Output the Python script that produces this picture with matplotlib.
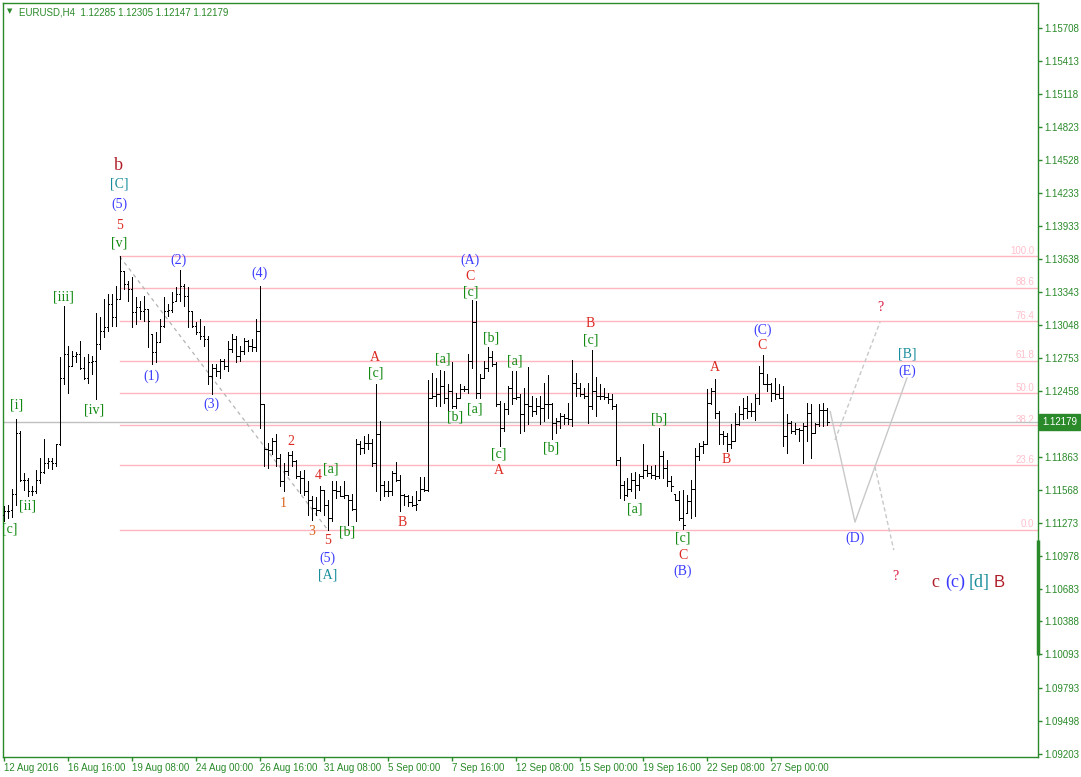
import matplotlib
matplotlib.use("Agg")
import matplotlib.pyplot as plt
import matplotlib.transforms as mtransforms
from matplotlib.collections import LineCollection

# EURUSD H4 bars (open / high / low / close)
opens = [
    1.11345, 1.11381, 1.11390, 1.11531, 1.12080, 1.11660, 1.11660, 1.11555, 1.11561, 1.11660,
    1.11729, 1.11810, 1.11825, 1.11810, 1.11981, 1.12575, 1.12785, 1.12680, 1.12770, 1.12785,
    1.12665, 1.12575, 1.12710, 1.12725, 1.12875, 1.12995, 1.13025, 1.13235, 1.13115, 1.13280,
    1.13535, 1.13415, 1.13370, 1.13160, 1.13205, 1.13175, 1.13190, 1.12965, 1.12800, 1.12890,
    1.13040, 1.13175, 1.13181, 1.13265, 1.13325, 1.13400, 1.13310, 1.13175, 1.13040, 1.12980,
    1.12950, 1.12920, 1.12590, 1.12665, 1.12635, 1.12725, 1.12680, 1.12830, 1.12920, 1.12770,
    1.12815, 1.12905, 1.12860, 1.12845, 1.12995, 1.12335, 1.11930, 1.11921, 1.12005, 1.11855,
    1.11645, 1.11735, 1.11879, 1.11825, 1.11690, 1.11675, 1.11561, 1.11480, 1.11405, 1.11390,
    1.11570, 1.11435, 1.11315, 1.11570, 1.11561, 1.11510, 1.11519, 1.11480, 1.11399, 1.11975,
    1.11945, 1.11990, 1.11990, 1.11810, 1.12071, 1.11615, 1.11555, 1.11561, 1.11720, 1.11660,
    1.11519, 1.11510, 1.11459, 1.11430, 1.11480, 1.11579, 1.11570, 1.12395, 1.12410, 1.12425,
    1.12500, 1.12395, 1.12455, 1.12320, 1.12395, 1.12470, 1.12470, 1.12725, 1.13070, 1.12440,
    1.12575, 1.12665, 1.12755, 1.12695, 1.12335, 1.12125, 1.12290, 1.12485, 1.12395, 1.12401,
    1.12245, 1.12335, 1.12320, 1.12275, 1.12320, 1.12305, 1.12335, 1.12335, 1.12170, 1.12185,
    1.12230, 1.12215, 1.12200, 1.12530, 1.12485, 1.12425, 1.12410, 1.12320, 1.12455, 1.12410,
    1.12410, 1.12401, 1.12380, 1.12320, 1.11840, 1.11615, 1.11525, 1.11579, 1.11660, 1.11615,
    1.11690, 1.11750, 1.11720, 1.11705, 1.11690, 1.11870, 1.11765, 1.11645, 1.11531, 1.11480,
    1.11315, 1.11360, 1.11471, 1.11579, 1.11870, 1.11960, 1.11981, 1.12350, 1.12455, 1.12260,
    1.12065, 1.12050, 1.11975, 1.12005, 1.12155, 1.12245, 1.12305, 1.12275, 1.12275, 1.12395,
    1.12620, 1.12515, 1.12515, 1.12440, 1.12425, 1.12395, 1.12050, 1.12170, 1.12095, 1.12110,
    1.12101, 1.12140, 1.12260, 1.12080, 1.12155, 1.12281, 1.12285,
]
highs = [
    1.11420, 1.11429, 1.11579, 1.12200, 1.12095, 1.11720, 1.11675, 1.11600, 1.11750, 1.11855,
    1.12020, 1.11855, 1.11855, 1.11981, 1.12761, 1.13220, 1.12860, 1.12815, 1.12800, 1.12905,
    1.12761, 1.12785, 1.12770, 1.13151, 1.13115, 1.13280, 1.13325, 1.13325, 1.13400, 1.13661,
    1.13535, 1.13445, 1.13475, 1.13295, 1.13265, 1.13310, 1.13190, 1.12965, 1.12980, 1.13100,
    1.13295, 1.13235, 1.13340, 1.13385, 1.13541, 1.13415, 1.13385, 1.13175, 1.13070, 1.13100,
    1.13040, 1.12950, 1.12695, 1.12695, 1.12740, 1.12740, 1.12905, 1.12965, 1.12950, 1.12860,
    1.12929, 1.12911, 1.12920, 1.13100, 1.13400, 1.12335, 1.11990, 1.12035, 1.12065, 1.11885,
    1.11810, 1.11909, 1.11915, 1.11840, 1.11735, 1.11750, 1.11645, 1.11510, 1.11501, 1.11600,
    1.11570, 1.11480, 1.11645, 1.11645, 1.11600, 1.11645, 1.11525, 1.11531, 1.12020, 1.12005,
    1.12050, 1.12065, 1.12020, 1.12515, 1.12185, 1.11645, 1.11645, 1.11735, 1.11816, 1.11705,
    1.11531, 1.11525, 1.11510, 1.11555, 1.11681, 1.11681, 1.12551, 1.12620, 1.12575, 1.12641,
    1.12635, 1.12515, 1.12710, 1.12440, 1.12515, 1.12500, 1.12785, 1.13271, 1.13259, 1.12605,
    1.12725, 1.12845, 1.12815, 1.12710, 1.12365, 1.12350, 1.12500, 1.12635, 1.12635, 1.12425,
    1.12485, 1.12671, 1.12410, 1.12395, 1.12410, 1.12530, 1.12599, 1.12350, 1.12215, 1.12260,
    1.12245, 1.12350, 1.12734, 1.12620, 1.12530, 1.12485, 1.12530, 1.12821, 1.12581, 1.12515,
    1.12485, 1.12440, 1.12425, 1.12335, 1.11861, 1.11645, 1.11675, 1.11720, 1.11729, 1.11711,
    1.11975, 1.11795, 1.11780, 1.11795, 1.12125, 1.11915, 1.11840, 1.11690, 1.11531, 1.11555,
    1.11570, 1.11525, 1.11660, 1.11945, 1.11990, 1.12005, 1.12470, 1.12485, 1.12560, 1.12275,
    1.12095, 1.12080, 1.12155, 1.12260, 1.12320, 1.12395, 1.12410, 1.12350, 1.12425, 1.12680,
    1.12776, 1.12605, 1.12530, 1.12575, 1.12515, 1.12500, 1.12245, 1.12185, 1.12170, 1.12125,
    1.12170, 1.12350, 1.12335, 1.12170, 1.12335, 1.12350, 1.12305,
]
lows = [
    1.11291, 1.11315, 1.11321, 1.11435, 1.11645, 1.11570, 1.11510, 1.11525, 1.11540, 1.11630,
    1.11720, 1.11765, 1.11759, 1.11780, 1.11969, 1.12515, 1.12440, 1.12680, 1.12710, 1.12650,
    1.12560, 1.12530, 1.12605, 1.12386, 1.12830, 1.12935, 1.12995, 1.13040, 1.13040, 1.13280,
    1.13370, 1.13265, 1.13025, 1.13055, 1.13100, 1.13085, 1.12845, 1.12695, 1.12710, 1.12890,
    1.13025, 1.13130, 1.13160, 1.13265, 1.13265, 1.13220, 1.13025, 1.13025, 1.12965, 1.12920,
    1.12860, 1.12515, 1.12431, 1.12590, 1.12575, 1.12650, 1.12635, 1.12800, 1.12710, 1.12725,
    1.12785, 1.12815, 1.12815, 1.12815, 1.12125, 1.11780, 1.11765, 1.11885, 1.11780, 1.11600,
    1.11561, 1.11705, 1.11780, 1.11675, 1.11540, 1.11525, 1.11345, 1.11300, 1.11345, 1.11375,
    1.11345, 1.11210, 1.11285, 1.11495, 1.11510, 1.11495, 1.11255, 1.11390, 1.11285, 1.11885,
    1.11900, 1.11930, 1.11780, 1.11555, 1.11480, 1.11510, 1.11510, 1.11525, 1.11645, 1.11375,
    1.11435, 1.11420, 1.11420, 1.11390, 1.11480, 1.11555, 1.11555, 1.12395, 1.12320, 1.12320,
    1.12350, 1.12275, 1.12305, 1.12305, 1.12395, 1.12455, 1.12440, 1.12665, 1.12395, 1.12395,
    1.12575, 1.12635, 1.12680, 1.12320, 1.11960, 1.12095, 1.12245, 1.12335, 1.12380, 1.12080,
    1.12095, 1.12155, 1.12230, 1.12245, 1.12155, 1.12185, 1.12215, 1.12020, 1.12080, 1.12125,
    1.12155, 1.12155, 1.12140, 1.12410, 1.12410, 1.12395, 1.12170, 1.12290, 1.12230, 1.12380,
    1.12380, 1.12350, 1.12290, 1.11795, 1.11495, 1.11480, 1.11510, 1.11555, 1.11495, 1.11570,
    1.11675, 1.11690, 1.11675, 1.11669, 1.11675, 1.11675, 1.11600, 1.11555, 1.11480, 1.11300,
    1.11219, 1.11360, 1.11315, 1.11330, 1.11840, 1.11900, 1.11975, 1.12335, 1.12215, 1.11975,
    1.11975, 1.11915, 1.11945, 1.12005, 1.12150, 1.12200, 1.12215, 1.12230, 1.12191, 1.12335,
    1.12515, 1.12455, 1.12365, 1.12380, 1.12395, 1.11960, 1.11900, 1.12080, 1.12065, 1.12005,
    1.11810, 1.12005, 1.11855, 1.12080, 1.12140, 1.12140, 1.12147,
]
closes = [
    1.11381, 1.11381, 1.11531, 1.12080, 1.11660, 1.11660, 1.11555, 1.11561, 1.11660, 1.11729,
    1.11810, 1.11825, 1.11810, 1.11981, 1.12575, 1.12785, 1.12680, 1.12770, 1.12785, 1.12665,
    1.12575, 1.12710, 1.12725, 1.12875, 1.12995, 1.13025, 1.13235, 1.13115, 1.13280, 1.13535,
    1.13415, 1.13370, 1.13160, 1.13205, 1.13175, 1.13190, 1.13085, 1.12800, 1.12890, 1.13040,
    1.13175, 1.13181, 1.13250, 1.13325, 1.13400, 1.13310, 1.13175, 1.13040, 1.12980, 1.12950,
    1.12920, 1.12590, 1.12665, 1.12635, 1.12725, 1.12680, 1.12830, 1.12920, 1.12770, 1.12815,
    1.12905, 1.12860, 1.12845, 1.12995, 1.12335, 1.11930, 1.11921, 1.12005, 1.11855, 1.11645,
    1.11735, 1.11879, 1.11825, 1.11690, 1.11675, 1.11561, 1.11480, 1.11405, 1.11390, 1.11570,
    1.11435, 1.11315, 1.11570, 1.11561, 1.11510, 1.11519, 1.11480, 1.11399, 1.11975, 1.11945,
    1.11990, 1.11990, 1.11810, 1.12071, 1.11615, 1.11555, 1.11561, 1.11720, 1.11660, 1.11519,
    1.11510, 1.11459, 1.11429, 1.11441, 1.11579, 1.11570, 1.12395, 1.12410, 1.12425, 1.12500,
    1.12395, 1.12455, 1.12320, 1.12395, 1.12470, 1.12470, 1.12725, 1.13070, 1.12440, 1.12575,
    1.12665, 1.12755, 1.12695, 1.12335, 1.12125, 1.12290, 1.12485, 1.12395, 1.12401, 1.12245,
    1.12335, 1.12320, 1.12275, 1.12320, 1.12305, 1.12335, 1.12335, 1.12170, 1.12185, 1.12230,
    1.12215, 1.12200, 1.12530, 1.12485, 1.12425, 1.12410, 1.12320, 1.12455, 1.12410, 1.12410,
    1.12401, 1.12380, 1.12320, 1.11840, 1.11615, 1.11525, 1.11579, 1.11660, 1.11615, 1.11690,
    1.11750, 1.11720, 1.11705, 1.11690, 1.11870, 1.11765, 1.11645, 1.11600, 1.11480, 1.11315,
    1.11255, 1.11471, 1.11579, 1.11870, 1.11960, 1.11981, 1.12350, 1.12455, 1.12260, 1.12065,
    1.12050, 1.11975, 1.12005, 1.12155, 1.12245, 1.12305, 1.12275, 1.12275, 1.12395, 1.12620,
    1.12515, 1.12515, 1.12440, 1.12425, 1.12395, 1.12050, 1.12170, 1.12095, 1.12110, 1.12101,
    1.12140, 1.12260, 1.12080, 1.12155, 1.12281, 1.12281, 1.12179,
]

date_labels = ['12 Aug 2016', '16 Aug 16:00', '19 Aug 08:00', '24 Aug 00:00', '26 Aug 16:00',
               '31 Aug 08:00', '5 Sep 00:00', '7 Sep 16:00', '12 Sep 08:00', '15 Sep 00:00',
               '19 Sep 16:00', '22 Sep 08:00', '27 Sep 00:00']
date_ticks = [0, 16, 32, 48, 64, 80, 96, 112, 128, 144, 160, 176, 192]

price_ticks = [1.15708, 1.15413, 1.15118, 1.14823, 1.14528, 1.14233, 1.13933, 1.13638,
               1.13343, 1.13048, 1.12753, 1.12458, 1.11863, 1.11568, 1.11273, 1.10978,
               1.10683, 1.10388, 1.10093, 1.09793, 1.09498, 1.09203]
last_price = 1.12179

# fibonacci retracement from the [v] top to the wave 5 low
fib_levels = [100.0, 88.6, 76.4, 61.8, 50.0, 38.2, 23.6, 0.0]
fib_high = 1.13661
fib_low = 1.11210
fib_start = 29
fib_end = 81

# projected path (bar index, price)
proj_x = [206.7, 212.9, 225.9]
proj_y = [1.12270, 1.11279, 1.12571]
alt_up_x = [207.9, 219.2]
alt_up_y = [1.12015, 1.13076]
alt_dn_x = [217.9, 222.6]
alt_dn_y = [1.11775, 1.11028]

# wave labels: text, bar index, price, colour key
wave_labels = [
    ('[C]', 28.9, 1.14311, 't'), ('(5)', 28.9, 1.14131, 'b'), ('5', 28.9, 1.13943, 'r'),
    ('[v]', 28.9, 1.13782, 'g'), ('[iii]', 14.9, 1.13297, 'g'), ('[i]', 3.2, 1.12328, 'g'),
    ('[ii]', 5.9, 1.11422, 'g'), ('[iv]', 22.7, 1.12284, 'g'), ('[c]', 1.4, 1.11216, 'g'),
    ('(2)', 43.7, 1.13629, 'b'), ('(1)', 36.9, 1.12589, 'b'), ('(3)', 51.9, 1.12337, 'b'),
    ('(4)', 63.9, 1.13512, 'b'), ('2', 71.7, 1.12005, 'r'), ('1', 69.9, 1.11449, 'o'),
    ('4', 78.7, 1.11700, 'r'), ('[a]', 81.7, 1.11754, 'g'), ('3', 76.9, 1.11198, 'o'),
    ('5', 80.9, 1.11117, 'r'), ('[b]', 85.9, 1.11189, 'g'), ('(5)', 80.9, 1.10956, 'b'),
    ('[A]', 80.9, 1.10803, 't'), ('A', 92.9, 1.12759, 'r'), ('[c]', 92.9, 1.12615, 'g'),
    ('B', 99.7, 1.11279, 'r'), ('[a]', 109.9, 1.12741, 'g'), ('[b]', 112.9, 1.12221, 'g'),
    ('(A)', 116.7, 1.13629, 'b'), ('C', 116.7, 1.13477, 'r'), ('[c]', 116.7, 1.13342, 'g'),
    ('[a]', 117.9, 1.12293, 'g'), ('[b]', 121.9, 1.12929, 'g'), ('[a]', 127.9, 1.12723, 'g'),
    ('[c]', 123.9, 1.11889, 'g'), ('A', 123.9, 1.11745, 'r'), ('[b]', 136.9, 1.11943, 'g'),
    ('B', 146.7, 1.13064, 'r'), ('[c]', 146.9, 1.12911, 'g'), ('[b]', 163.9, 1.12203, 'g'),
    ('[a]', 157.7, 1.11395, 'g'), ('[c]', 169.9, 1.11135, 'g'), ('C', 169.9, 1.10983, 'r'),
    ('(B)', 169.7, 1.10839, 'b'), ('A', 177.9, 1.12669, 'r'), ('B', 180.7, 1.11844, 'r'),
    ('(C)', 189.9, 1.13001, 'b'), ('C', 189.7, 1.12858, 'r'), ('?', 219.2, 1.13207, 'q'),
    ('[B]', 225.9, 1.12786, 't'), ('(E)', 225.9, 1.12633, 'b'), ('(D)', 212.9, 1.11135, 'b'),
    ('?', 222.9, 1.10794, 'q'),
]
big_labels = [('b', 28.7, 1.14481, 'k'), ('c', 233.0, 1.10741, 'k'),
              ('(c)', 238.1, 1.10741, 'b'), ('[d]', 244.0, 1.10741, 't')]

GREEN = '#2a8a2a'
colors = {'g': '#128a12', 'r': '#dc2a22', 'o': '#d8661e', 'b': '#3a3aff',
          't': '#1a8d9c', 'q': '#dc143c', 'k': '#b01e28'}

fig = plt.figure(figsize=(10.81, 7.77), dpi=100)
ax = fig.add_axes([3 / 1081, 20 / 777, 1034.5 / 1081, 754 / 777])
ax.set_xlim(-0.2, 258.55)
ax.set_ylim(1.09172, 1.15934)

# fib levels
fib_range = fib_high - fib_low
for lev in fib_levels:
    p = fib_low + fib_range * lev / 100.0
    ax.plot([fib_start, 258.55], [p, p], color='#ffb6c1', lw=1, zorder=1)
    ax.text(257.7, p + 0.00004, f'{lev:.1f}', color='#ffc0cb', fontsize=7,
            family='Liberation Sans', ha='right', va='bottom', zorder=1)
ax.plot([fib_start, fib_end], [fib_high, fib_low], color='#b4b4b4', lw=0.9,
        ls=(0, (3, 3)), zorder=1)

# current price line
ax.axhline(last_price, color='#c0c0c0', lw=1, zorder=1)

# OHLC bars
segs = []
for i in range(len(opens)):
    segs.append([(i, lows[i]), (i, highs[i])])
    segs.append([(i - 0.3, opens[i]), (i, opens[i])])
    segs.append([(i, closes[i]), (i + 0.3, closes[i])])
ax.add_collection(LineCollection(segs, colors='black', linewidths=0.72,
                                 antialiaseds=False, zorder=3))

# projection
ax.plot(proj_x, proj_y, color='#c8c8c8', lw=1, zorder=2)
ax.plot(alt_up_x, alt_up_y, color='#c8c8c8', lw=1, ls=(0, (3, 2)), zorder=2)
ax.plot(alt_dn_x, alt_dn_y, color='#c8c8c8', lw=1, ls=(0, (3, 2)), zorder=2)

for t, x, y, c in wave_labels:
    ax.text(x, y, t, color=colors[c], fontsize=10, family='Liberation Serif',
            ha='center', va='center', zorder=4, clip_on=True)
for t, x, y, c in big_labels:
    ax.text(x, y, t, color=colors[c], fontsize=13, family='Liberation Serif',
            ha='center', va='center', zorder=4)
ax.text(248.9, 1.10741, 'B', color='#b01e28', fontsize=12, family='Liberation Sans',
        ha='center', va='center', zorder=4)

# header
ax.text(0.004, 0.993, '\u25bc', transform=ax.transAxes, color=GREEN, fontsize=5,
        family='DejaVu Sans', ha='left', va='top')
ax.text(0.015, 0.994, 'EURUSD,H4  1.12285 1.12305 1.12147 1.12179', transform=ax.transAxes,
        color=GREEN, fontsize=7, family='Liberation Sans', ha='left', va='top')

# axes styling
for s in ax.spines.values():
    s.set_color(GREEN)
    s.set_linewidth(1)
ax.yaxis.tick_right()
ax.set_yticks(price_ticks)
ax.set_yticklabels([f'{p:.5f}' for p in price_ticks])
ax.tick_params(axis='y', direction='out', length=3, width=1, color=GREEN,
               labelcolor=GREEN, labelsize=7, pad=2)
ax.set_xticks(date_ticks)
ax.set_xticklabels(date_labels)
ax.tick_params(axis='x', direction='out', length=3, width=1, color=GREEN,
               labelcolor=GREEN, labelsize=7, pad=1)
for lab in ax.get_xticklabels() + ax.get_yticklabels():
    lab.set_family('Liberation Sans')
for lab in ax.get_xticklabels():
    lab.set_ha('left')

# current price tag on the scale
tr = mtransforms.blended_transform_factory(ax.transAxes, ax.transData)
ax.text(1.0045, last_price, '1.12179', transform=tr, color='white', fontsize=7,
        family='Liberation Sans', ha='left', va='center', clip_on=False,
        bbox=dict(boxstyle='square,pad=0.3', fc=GREEN, ec=GREEN))
ax.plot([1.0, 1.0], [1.10086, 1.11118], transform=tr, color=GREEN, lw=2.5,
        clip_on=False, solid_capstyle='butt')

fig.savefig('out.png', dpi=100, facecolor='white')
